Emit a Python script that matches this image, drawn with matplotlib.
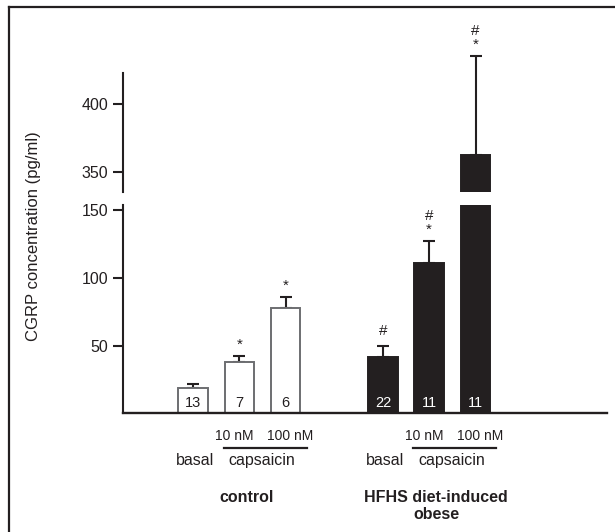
#---------------------------------Start--------------------------------

import numpy as np
import matplotlib.pyplot as plt
from matplotlib.lines import Line2D
from matplotlib import transforms

plt.rcParams['font.family'] = ['Liberation Sans', 'DejaVu Sans']

#-------------------------------Data----------------------------------

groups = ['control', 'HFHS diet-induced\nobese']
conditions = ['basal', '10 nM', '100 nM']
means = [19.0, 37.7, 77.6, 41.9, 110.6, 362.6]      # pg/ml
sems = [2.9, 4.9, 8.4, 8.1, 16.7, 73.2]
n_animals = ['13', '7', '6', '22', '11', '11']
marks = ['', '*', '*', '#', '#\n*', '#\n*']

#-------------------------------Layout--------------------------------

dark = '#231f20'
xpos = np.array([0, 1, 2, 4.1, 5.1, 6.1])
width = 0.64
faces = ['white'] * 3 + [dark] * 3
edges = ['#6d6e71'] * 3 + [dark] * 3

fig = plt.figure(figsize=(6.15, 5.32), dpi=100)
W, H = 615.0, 532.0

def px_axes(x0, y0, x1, y1):
    return fig.add_axes([x0 / W, 1 - y1 / H, (x1 - x0) / W, (y1 - y0) / H])

ax_lo = px_axes(122.7, 205, 607, 413.4)
ax_hi = px_axes(122.7, 72.5, 607, 191.7)

xlim = (-1.52, 8.94)

#-----------------------------Bars--------------------------------------

for ax in (ax_lo, ax_hi):
    ax.bar(xpos, means, width, color=faces, edgecolor=edges, linewidth=1.4, zorder=2)
    ax.set_xlim(*xlim)
    ax.set_facecolor('none')
    ax.spines[['top', 'right']].set_visible(False)
    ax.spines['left'].set_linewidth(1.5)
    ax.spines['left'].set_color(dark)
    ax.tick_params(axis='y', direction='out', length=7, width=1.5, pad=3.5,
                   labelsize=11.5, color=dark, labelcolor=dark)
    ax.set_xticks([])

ax_lo.set_ylim(0, 153.7)
ax_lo.set_yticks([50, 100, 150])
ax_lo.spines['bottom'].set_linewidth(1.7)
ax_lo.spines['bottom'].set_color(dark)

ax_hi.set_ylim(335.2, 423.6)
ax_hi.set_yticks([350, 400])
ax_hi.spines['bottom'].set_visible(False)

# error bars (upper only)
lo_idx = [0, 1, 2, 3, 4]
ax_lo.errorbar(xpos[lo_idx], np.array(means)[lo_idx],
               yerr=[np.zeros(5), np.array(sems)[lo_idx]],
               fmt='none', ecolor=dark, elinewidth=1.5, capsize=4.4, capthick=1.5, zorder=1)
eb = ax_hi.errorbar([xpos[5]], [means[5]], yerr=[[0], [sems[5]]],
                    fmt='none', ecolor=dark, elinewidth=1.5, capsize=4.4, capthick=1.5, zorder=1)
for art in list(eb.lines[1]) + list(eb.lines[2]):
    art.set_clip_on(False)

#-----------------------Significance marks-------------------------------

for i in range(6):
    if not marks[i]:
        continue
    ax = ax_hi if i == 5 else ax_lo
    top = means[i] + sems[i]
    dy = 5.5 if marks[i] == '#' else 3
    ax.annotate(marks[i], (xpos[i], top), xytext=(0, dy), textcoords='offset points',
                ha='center', va='bottom', fontsize=11, color=dark, linespacing=0.95,
                annotation_clip=False)

#-----------------------------n in bars----------------------------------

for i in range(6):
    ax_lo.text(xpos[i], 7.5, n_animals[i], ha='center', va='center', fontsize=10.5,
               color='white' if i >= 3 else dark, zorder=3)

#-------------------------Category labels--------------------------------

tr = transforms.blended_transform_factory(ax_lo.transData, fig.transFigure)

def fy(py):
    return 1 - py / H

for off, gname in zip([0.0, 4.1], groups):
    ax_lo.text(off + 0.885, fy(436), '10 nM', transform=tr, ha='center', va='center',
               fontsize=10, color=dark)
    ax_lo.text(off + 2.1, fy(436), '100 nM', transform=tr, ha='center', va='center',
               fontsize=10, color=dark)
    ax_lo.add_line(Line2D([off + 0.66, off + 2.45], [fy(448.3), fy(448.3)], transform=tr,
                          color=dark, lw=1.6, clip_on=False))
    ax_lo.text(off + 0.04, fy(460.7), 'basal', transform=tr, ha='center', va='center',
               fontsize=11.5, color=dark)
    ax_lo.text(off + 1.49, fy(460.7), 'capsaicin', transform=tr, ha='center', va='center',
               fontsize=11.5, color=dark)
    ax_lo.text(off + 1.15, fy(490), gname, transform=tr, ha='center', va='top',
               fontsize=11.5, fontweight='bold', color=dark, linespacing=1.15)

#-------------------------Y label and frame------------------------------

fig.text(33.5 / W, fy(236.5), 'CGRP concentration (pg/ml)', rotation=90,
         ha='center', va='center', fontsize=12, color=dark)

fig.add_artist(Line2D([9 / W, 9 / W], [0, fy(6.5)], color=dark, lw=1.6))
fig.add_artist(Line2D([9 / W, 1], [fy(6.5), fy(6.5)], color=dark, lw=1.6))

fig.savefig('out.png', dpi=100)
#------------------------------End---------------------------------------
